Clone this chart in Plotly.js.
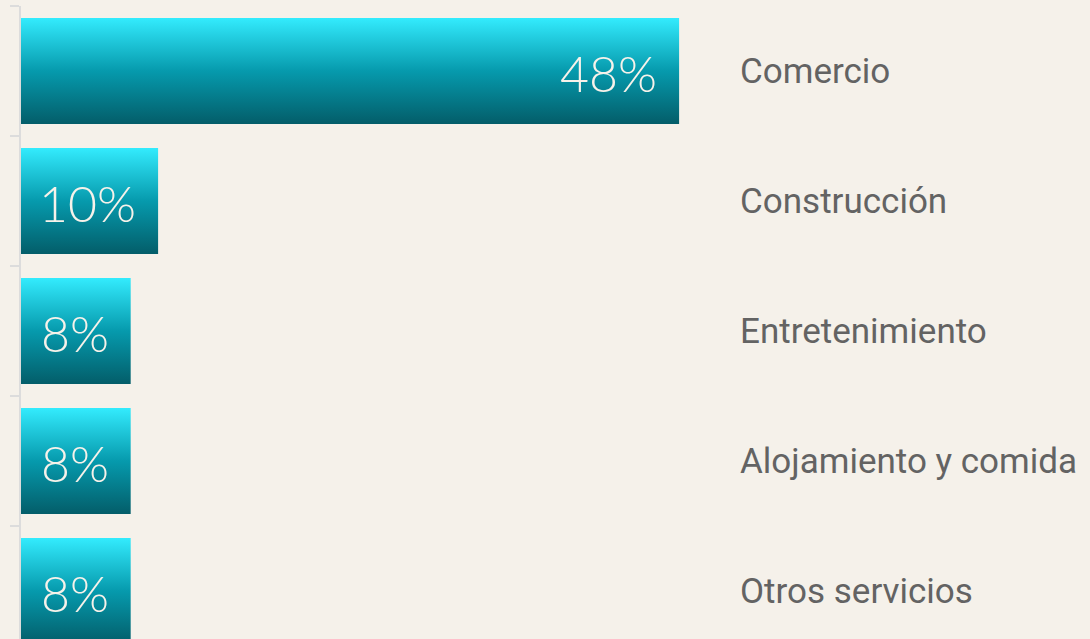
<!DOCTYPE html>
<html>
<head>
<meta charset="utf-8">
<script src="https://cdn.plot.ly/plotly-3.0.1.min.js"></script>
<style>
html,body{margin:0;padding:0;background:#f5f1ea;}
#chart{width:1090px;height:639px;}
</style>
</head>
<body>
<div id="chart"></div>
<script>
const categories = ["Comercio", "Construcción", "Entretenimiento", "Alojamiento y comida", "Otros servicios"];
const values = [48, 10, 8, 8, 8];
const valueLabels = ["48%", "10%", "8%", "8%", "8%"];

const bg = '#f5f1ea';

const trace = {
  type: 'bar',
  orientation: 'h',
  y: categories,
  x: values,
  width: 0.815,
  marker: {color: '#0aa5b8', line: {width: 0}},
  hoverinfo: 'skip'
};

const annotations = [];
categories.forEach((c, i) => {
  annotations.push({
    x: values[i], y: c, xref: 'x', yref: 'y',
    text: valueLabels[i], showarrow: false,
    xanchor: 'right', yanchor: 'middle', xshift: -20, yshift: -2,
    font: {family: 'Lato, Roboto, sans-serif', size: 50, color: '#f7f2ea', weight: 300}
  });
  annotations.push({
    x: 0.6745, y: c, xref: 'paper', yref: 'y',
    text: c, showarrow: false,
    xanchor: 'left', yanchor: 'middle', xshift: -4,
    font: {family: 'Roboto, sans-serif', size: 35, color: '#636363'}
  });
});

const layout = {
  width: 1090, height: 639,
  paper_bgcolor: bg, plot_bgcolor: bg,
  margin: {l: 21, r: 0, t: 6, b: 0},
  showlegend: false,
  xaxis: {range: [0, 77.97], showgrid: false, zeroline: false, showticklabels: false, showline: false, ticks: ''},
  yaxis: {
    type: 'category', range: [4.369, -0.5],
    showgrid: false, zeroline: false, showticklabels: false,
    showline: true, linecolor: '#dcdcdc', linewidth: 2,
    ticks: 'outside', ticklen: 9, tickcolor: '#dcdcdc', tickwidth: 2,
    tickson: 'boundaries'
  },
  annotations: annotations
};

Plotly.newPlot('chart', [trace], layout, {displayModeBar: false, staticPlot: true}).then(gd => {
  const svg = gd.querySelector('svg.main-svg');
  const ns = 'http://www.w3.org/2000/svg';
  let defs = svg.querySelector('defs');
  if (!defs) { defs = document.createElementNS(ns, 'defs'); svg.insertBefore(defs, svg.firstChild); }
  const grad = document.createElementNS(ns, 'linearGradient');
  grad.setAttribute('id', 'barGrad');
  grad.setAttribute('x1', '0'); grad.setAttribute('y1', '0');
  grad.setAttribute('x2', '0'); grad.setAttribute('y2', '1');
  [['0', '#33ebfd'], ['0.5', '#069aad'], ['1', '#035d69']].forEach(([o, c]) => {
    const s = document.createElementNS(ns, 'stop');
    s.setAttribute('offset', o); s.setAttribute('stop-color', c);
    grad.appendChild(s);
  });
  defs.appendChild(grad);
  gd.querySelectorAll('.barlayer .point path').forEach(p => { p.style.fill = 'url(#barGrad)'; });
});
</script>
</body>
</html>
